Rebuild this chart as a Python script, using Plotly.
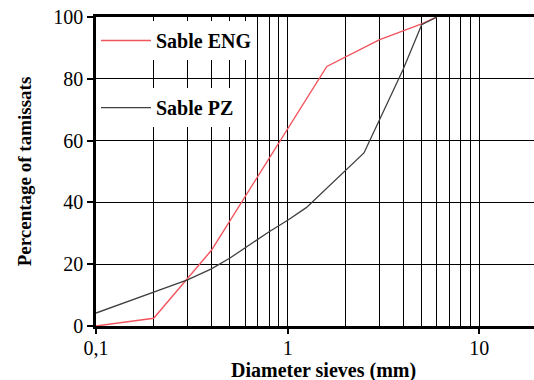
import plotly.graph_objects as go

# Data
eng_x = [0.1, 0.2, 0.4, 1.6, 3.0, 5.0, 6.0]
eng_y = [0.0, 2.5, 24.5, 84.0, 92.6, 97.8, 100.0]

pz_x = [0.1, 0.2, 0.3, 0.4, 0.5, 0.8, 1.0, 1.25, 2.5, 4.0, 5.0, 6.0]
pz_y = [4.2, 11.1, 14.9, 18.5, 22.0, 30.5, 34.2, 38.3, 56.0, 83.0, 97.5, 100.0]

x_tickvals = [0.1, 1, 10]
x_ticktext = ["0,1", "1", "10"]
y_tickvals = [0, 20, 40, 60, 80, 100]

FONT = "Liberation Serif, Times New Roman, serif"

fig = go.Figure()
fig.add_trace(go.Scatter(x=eng_x, y=eng_y, mode="lines", name="<b>Sable ENG</b>",
                         line=dict(color="#f2545e", width=1.4), legend="legend",
                         showlegend=True))
fig.add_trace(go.Scatter(x=pz_x, y=pz_y, mode="lines", name="<b>Sable PZ</b>",
                         line=dict(color="#404040", width=1.3), legend="legend2",
                         showlegend=True))

fig.update_layout(
    width=534, height=380,
    margin=dict(l=96, r=0, t=17, b=54),
    paper_bgcolor="white", plot_bgcolor="white",
    showlegend=True,
    font=dict(family=FONT, size=20, color="black"),
    legend=dict(x=0.0, y=0.987, xanchor="left", yanchor="top",
                bgcolor="white", borderwidth=0, itemwidth=50,
                font=dict(family=FONT, size=20, color="black")),
    legend2=dict(x=0.0, y=0.77, xanchor="left", yanchor="top",
                 bgcolor="white", borderwidth=0, itemwidth=50,
                 font=dict(family=FONT, size=20, color="black")),
    xaxis=dict(
        type="log", range=[-1, 1.285],
        tickvals=x_tickvals, ticktext=x_ticktext,
        ticks="outside", ticklen=5, tickwidth=1.5, tickcolor="black",
        ticklabelstandoff=-3,
        showgrid=True, gridcolor="black", gridwidth=1,
        minor=dict(dtick="D1", showgrid=True, gridcolor="black", gridwidth=1, ticks=""),
        showline=True, linecolor="black", linewidth=2.5, mirror=True,
        zeroline=False,
        tickfont=dict(family=FONT, size=20),
    ),
    yaxis=dict(
        range=[0, 100], tickvals=y_tickvals,
        ticks="outside", ticklen=6, tickwidth=1.5, tickcolor="black",
        showgrid=True, gridcolor="black", gridwidth=1,
        showline=True, linecolor="black", linewidth=2.5,
        zeroline=False,
        title=dict(text="<b>Percentage of tamissats</b>", font=dict(family=FONT, size=19), standoff=17),
        tickfont=dict(family=FONT, size=20),
    ),
    annotations=[dict(
        text="<b>Diameter sieves (mm)</b>", xref="paper", yref="paper",
        x=0.519, y=-0.145,
        xanchor="center", yanchor="middle", showarrow=False,
        font=dict(family=FONT, size=20, color="black"),
    )],
)

fig.write_html("out.html")
